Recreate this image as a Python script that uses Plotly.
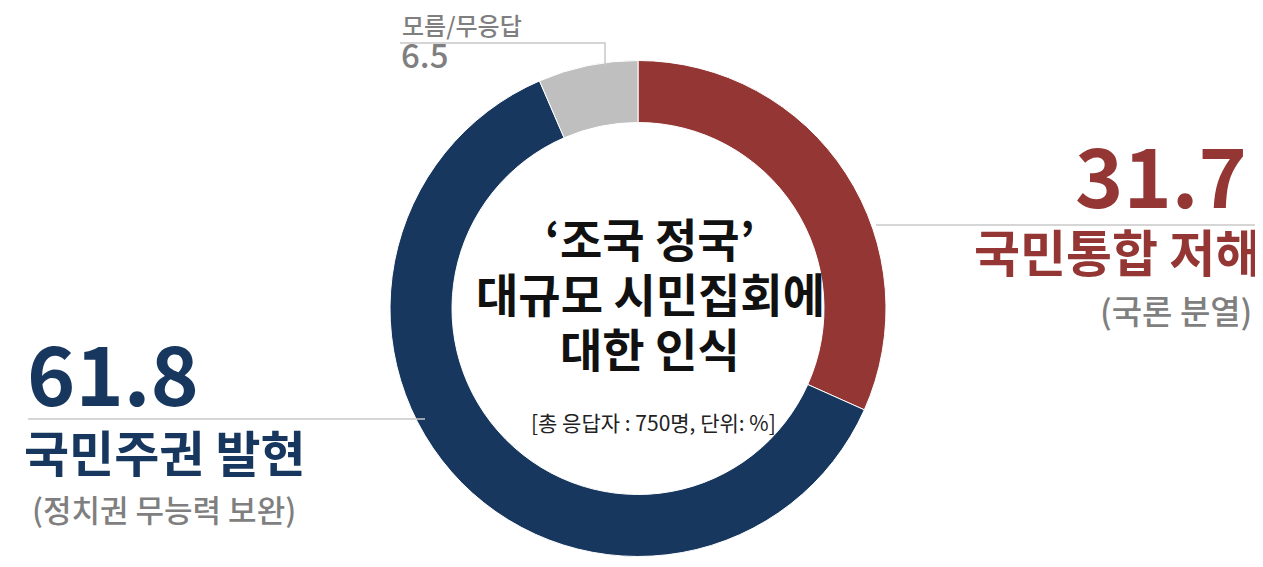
import plotly.graph_objects as go

W, H = 1263, 567

labels = ["국민통합 저해", "국민주권 발현", "모름/무응답"]
sublabels = ["(국론 분열)", "(정치권 무능력 보완)", ""]
values = [31.7, 61.8, 6.5]
colors = ["#943634", "#17375e", "#bfbfbf"]
title_lines = ["‘조국 정국’", "대규모 시민집회에", "대한 인식"]
subtitle = "[총 응답자 : 750명, 단위: %]"

FONT = "Noto Sans CJK KR"
GRAY_TXT = "#7f7f7f"
LINE = "#c8c8c8"


def px(x):
    return x / W


def py(y):
    return 1 - y / H


cx, cy, r = 630, 300.5, 248

fig = go.Figure(go.Pie(
    labels=labels,
    values=values,
    marker=dict(colors=colors, line=dict(color="white", width=1)),
    hole=0.75,
    sort=False,
    direction="clockwise",
    rotation=0,
    textinfo="none",
    hoverinfo="label+value",
    showlegend=False,
    domain=dict(x=[px(cx - r), px(cx + r)], y=[py(cy + r), py(cy - r)]),
))

ann = []


def add(text, x, y, size, color, xanchor="center", weight=700):
    ann.append(dict(text=text, x=px(x), y=py(y), xref="paper", yref="paper",
                    xanchor=xanchor, yanchor="middle", showarrow=False,
                    font=dict(family=FONT, size=size, color=color, weight=weight)))


# right label (first slice)
add(f"{values[0]}", 1241, 165, 82, colors[0], "right")
add(labels[0], 1255, 242, 50, colors[0], "right")
add(sublabels[0], 1246, 302, 33, GRAY_TXT, "right", 500)

# left label (second slice)
add(f"{values[1]}", 17, 362, 82, colors[1], "left")
add(labels[1], 14, 442, 49, colors[1], "left")
add(sublabels[1], 22, 500, 31, GRAY_TXT, "left", 500)

# top-left label (third slice)
add(labels[2], 392, 17, 24, GRAY_TXT, "left", 500)
add(f"{values[2]}", 391, 46, 33, GRAY_TXT, "left", 500)

# center title
for i, t in enumerate(title_lines):
    add(t, 642, 229 + i * 55, 46, "#111111", "center", 700)
add(subtitle, 645, 414, 21, "#222222", "center", 400)

shapes = [
    dict(type="line", xref="paper", yref="paper", x0=px(868), x1=px(1256), y0=py(217), y1=py(217),
         line=dict(color=LINE, width=1.5)),
    dict(type="line", xref="paper", yref="paper", x0=px(20), x1=px(417), y0=py(411), y1=py(411),
         line=dict(color=LINE, width=1.5)),
    dict(type="path", xref="paper", yref="paper",
         path=f"M {px(392)} {py(35)} L {px(597)} {py(35)} L {px(597)} {py(58)}",
         line=dict(color=LINE, width=1.5)),
]

fig.update_layout(
    width=W, height=H,
    margin=dict(l=0, r=0, t=0, b=0),
    paper_bgcolor="white",
    plot_bgcolor="white",
    annotations=ann,
    shapes=shapes,
    font=dict(family=FONT),
)

fig.write_html("out.html")
